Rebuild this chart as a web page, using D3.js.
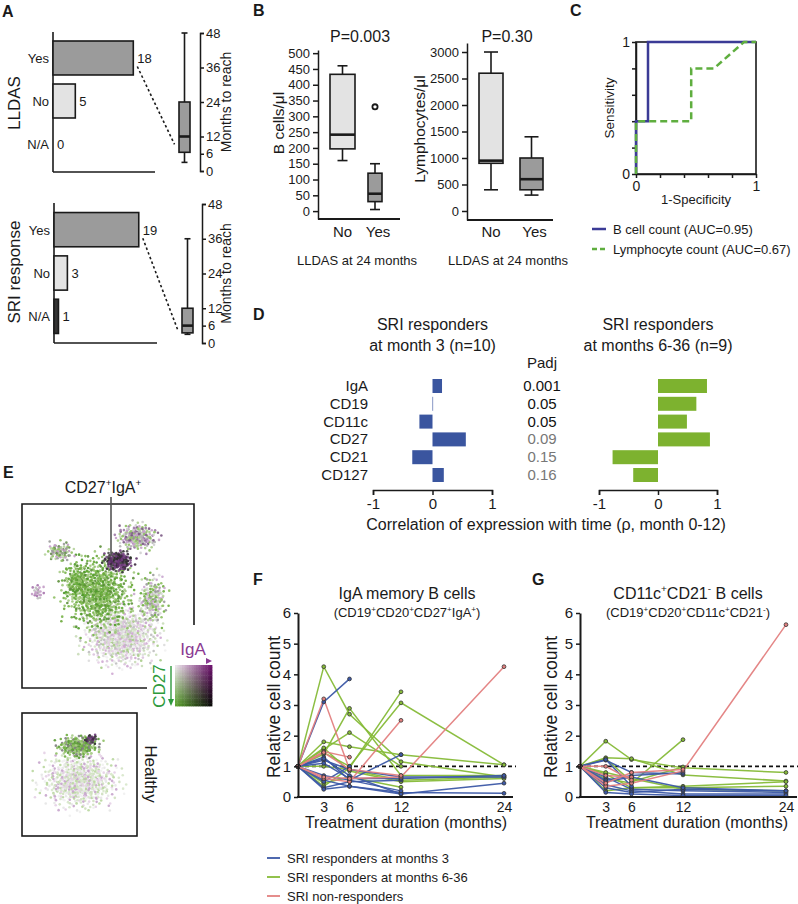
<!DOCTYPE html>
<html>
<head>
<meta charset="utf-8">
<script src="https://cdn.jsdelivr.net/npm/d3@7/dist/d3.min.js"></script>
<style>
html,body{margin:0;padding:0;background:#fff;}
svg{display:block;font-family:"Liberation Sans",Arial,Helvetica,sans-serif;}
</style>
</head>
<body>
<svg id="fig" width="798" height="904"></svg>
<script>
// ================= DATA =================
// Panel A
const answerCategories = ["Yes", "No", "N/A"];
const lldasCounts = [18, 5, 0];
const sriCounts = [19, 3, 1];
const monthTicks = [0, 6, 12, 24, 36, 48];
const lldasMonthsBox = [3, 6.5, 12, 24, 48];   // min, q1, median, q3, max
const sriMonthsBox = [3, 3.5, 6, 12, 36];

// Panel B
const lldasGroups = ["No", "Yes"];
const bCellTicks = [0, 50, 100, 150, 200, 250, 300, 350, 400, 450, 500];
const bCellsNoBox = [160, 197, 242, 433, 460];
const bCellsYesBox = [5, 30, 55, 120, 150];
const bCellsYesOutliers = [330];
const lymphTicks = [0, 500, 1000, 1500, 2000, 2500, 3000];
const lymphNoBox = [400, 900, 950, 2600, 3000];
const lymphYesBox = [300, 400, 600, 1000, 1400];
const pValues = ["P=0.003", "P=0.30"];

// Panel C
const rocBCell = [[0, 0], [0, 0.4], [0.1, 0.4], [0.1, 1], [1, 1]];
const rocLymph = [[0, 0], [0, 0.4], [0.46, 0.4], [0.46, 0.8], [0.65, 0.8], [0.9, 1], [1, 1]];
const rocTicks = [0, 0.2, 0.4, 0.6, 0.8, 1];
const rocLegend = ["B cell count (AUC=0.95)", "Lymphocyte count (AUC=0.67)"];

// Panel D
const markers = ["IgA", "CD19", "CD11c", "CD27", "CD21", "CD127"];
const rhoMonth3 = [0.16, 0.006, -0.22, 0.56, -0.34, 0.19];
const rhoMonths636 = [0.83, 0.65, 0.49, 0.88, -0.77, -0.42];
const padj = [0.001, 0.05, 0.05, 0.09, 0.15, 0.16];
const corrTicks = [-1, 0, 1];

// Panel E (t-SNE regions: cx, cy, rx, ry, n points, colour mix)
const mainClusters = [
  [58, 72, 30, 22, 700, "light"],
  [44, 48, 27, 27, 650, "green"],
  [76, 52, 11, 19, 170, "mixG"],
  [32, 42, 10, 14, 110, "green"],
  [22, 26, 11, 7, 80, "mixA"],
  [9, 48, 5, 6, 22, "mixP"],
  [67, 18, 16, 10, 200, "mixGP"],
  [56, 31, 11, 7, 190, "dark"]
];
const healthyClusters = [
  [50, 55, 46, 31, 620, "lightH"],
  [49, 27, 25, 12, 200, "greenH"],
  [60, 21, 7, 5, 30, "dark"]
];

// Panels F, G
const months = [0, 3, 6, 12, 24];
const monthLabels = [3, 6, 12, 24];
const relTicks = [0, 1, 2, 3, 4, 5, 6];
const groupNames = ["SRI responders at months 3", "SRI responders at months 6-36", "SRI non-responders"];

const fBlue = [
  [1, 3.1, 3.85, null, null],
  [1, 1.3, 0.55, 1.38, null],
  [1, 0.55, 0.35, 0.15, 0.12],
  [1, 1.2, 0.9, 0.65, 0.65],
  [1, 0.3, 0.5, 0.55, null],
  [1, 0.25, 0.35, 0.1, 0.45],
  [1, 1.25, 0.7, 0.1, null],
  [1, 0.7, 0.55, 0.2, null],
  [1, 1.1, 0.6, 0.6, 0.7],
  [1, 0.5, 1.0, null, null]
];
const fGreen = [
  [1, 4.25, 2.7, 1.15, 0.65],
  [1, 1.8, 1.64, 1.38, 1.05],
  [1, 1.4, 2.89, 0.7, 0.7],
  [1, 1.55, 2.1, 1.0, null],
  [1, 0.35, 0.95, 3.43, null],
  [1, 1.45, 1.0, 3.07, 1.05],
  [1, 1.0, 0.9, 0.55, 0.65],
  [1, 1.6, 0.85, 0.5, 0.6],
  [1, 0.45, 0.65, 0.32, null]
];
const fPink = [
  [1, 3.2, 0.9, null, null],
  [1, 1.48, 1.3, null, null],
  [1, 0.6, 0.5, 2.5, null],
  [1, 0.65, 0.6, 0.65, 4.25],
  [1, 1.45, 0.9, 0.7, null]
];

const gGreen = [
  [1, 1.82, 1.22, 0.95, 0.8],
  [1, 1.28, 1.25, 0.72, 0.52],
  [1, 0.6, 0.45, 1.87, null],
  [1, 0.75, 0.3, 0.35, 0.5],
  [1, 0.2, 0.3, 0.3, 0.35],
  [1, 0.8, 0.6, 0.25, 0.2],
  [1, 1.25, 0.5, 0.98, null]
];
const gBlue = [
  [1, 1.2, 0.8, 0.75, null],
  [1, 0.65, 0.25, 0.2, 0.15],
  [1, 0.4, 0.2, 0.1, 0.1],
  [1, 0.3, 0.15, 0.25, 0.2],
  [1, 0.55, 0.7, 0.8, null],
  [1, 0.15, 0.1, 0.05, 0.05],
  [1, 1.22, 0.35, null, null],
  [1, 0.5, 0.65, 0.3, 0.2]
];
const gPink = [
  [1, 0.35, 0.45, 0.85, 5.62],
  [1, 0.7, 0.65, null, null],
  [1, 0.45, 0.8, 0.9, null],
  [1, 1.0, 0.55, null, null]
];

// ================= STYLE =================
const FG = "#1a1a1a";
const BLUE = "#3c58a6", GREEN = "#86bb38", PINK = "#e3807f";
const palettes = {
  green: ["#4f9a2a", "#62a836", "#78b449", "#8fc064", "#a8cc88", "#5c8f3a", "#6aa83a", "#9ec77a"],
  light: ["#e8e8e8", "#dcdcdc", "#d5e5c8", "#e3cde3", "#c9dcb8", "#cfa9d3", "#f2f2f2", "#bfbfbf", "#a8cc88", "#d9c2dc"],
  mixG: ["#8fc064", "#b5d39b", "#9a9a9a", "#c9a6cf", "#6fae3f", "#d8d8d8"],
  mixGP: ["#9f7aa8", "#b3b3b3", "#8fc064", "#c5a0cb", "#7c5a85", "#a8cc88", "#d0d0d0"],
  dark: ["#3b2a3f", "#5a2e66", "#4c4c4c", "#6e3b7b", "#2e2e2e", "#7b4a86"],
  mixA: ["#8fc064", "#c39cc7", "#9a9a9a", "#6a8f52", "#b5d39b"],
  mixP: ["#c39cc7", "#a673ad", "#bdbdbd"],
  lightH: ["#e6e6e6", "#d7e7ca", "#e4d0e5", "#cfe0bf", "#f0f0f0", "#c7a4cc", "#b9d79f"],
  greenH: ["#6fae3f", "#8fc064", "#5a9a35", "#a8cc88", "#7f7f7f"]
};

const svg = d3.select("#fig");
const plain = d => String(d);

function addText(x, y, str, size, anchor, opts) {
  opts = opts || {};
  const t = svg.append("text")
    .attr("font-size", size)
    .attr("text-anchor", anchor || "start")
    .attr("fill", opts.fill || FG)
    .text(str);
  if (opts.weight) t.attr("font-weight", opts.weight);
  if (opts.rotate != null) t.attr("transform", `translate(${x},${y}) rotate(${opts.rotate})`);
  else t.attr("x", x).attr("y", y);
  return t;
}
function richText(x, y, segs, size, anchor) {
  const t = svg.append("text").attr("x", x).attr("y", y).attr("font-size", size)
    .attr("text-anchor", anchor || "middle").attr("fill", FG);
  let shifted = false;
  segs.forEach(([s, sup]) => {
    const ts = t.append("tspan").text(s);
    if (sup) {
      ts.attr("font-size", size * 0.62);
      if (!shifted) { ts.attr("dy", -size * 0.42); shifted = true; }
    } else if (shifted) { ts.attr("dy", size * 0.42); shifted = false; }
  });
  return t;
}
function line(x1, y1, x2, y2, w, color, dash) {
  const l = svg.append("line").attr("x1", x1).attr("y1", y1).attr("x2", x2).attr("y2", y2)
    .attr("stroke", color || FG).attr("stroke-width", w || 1.5);
  if (dash) l.attr("stroke-dasharray", dash);
  return l;
}
function styleAxis(g, size) {
  g.attr("font-family", null).attr("font-size", size);
  g.selectAll("text").attr("fill", FG);
  g.selectAll("path,line").attr("stroke", FG).attr("stroke-width", 1.5);
}
function boxPlot(cx, w, stats, yS, fill, capW) {
  const [mn, q1, md, q3, mx] = stats;
  line(cx, yS(mx), cx, yS(q3), 1.6);
  line(cx, yS(q1), cx, yS(mn), 1.6);
  line(cx - capW / 2, yS(mx), cx + capW / 2, yS(mx), 1.6);
  line(cx - capW / 2, yS(mn), cx + capW / 2, yS(mn), 1.6);
  svg.append("rect").attr("x", cx - w / 2).attr("y", yS(q3)).attr("width", w)
    .attr("height", yS(q1) - yS(q3)).attr("fill", fill).attr("stroke", FG).attr("stroke-width", 1.6);
  line(cx - w / 2, yS(md), cx + w / 2, yS(md), 2.6);
}

// ================= PANEL LETTERS =================
[["A", 2, 17], ["B", 253, 16], ["C", 570, 16], ["D", 253, 320], ["E", 3, 478], ["F", 253, 585], ["G", 532, 585]]
  .forEach(([s, x, y]) => addText(x, y, s, 16, "start", { weight: "bold" }));

// ================= PANEL A =================
const aLayouts = [
  { counts: lldasCounts, box: lldasMonthsBox, label: "LLDAS", axisX: 53, yTop: 32, yBot: 172, band: [36.7, 165.3], lineEnd: 155, boxC: 184.5, mAxisX: 200, mRange: [171, 33], labelY: 103 },
  { counts: sriCounts, box: sriMonthsBox, label: "SRI  response", axisX: 54, yTop: 203, yBot: 343, band: [208.2, 337.8], lineEnd: 157, boxC: 187.5, mAxisX: 202, mRange: [343, 204], labelY: 272 }
];
const aFills = ["#9b9b9b", "#e3e3e3", "#333333"];
aLayouts.forEach(L => {
  const x = d3.scaleLinear().domain([0, 23]).range([L.axisX, L.axisX + 102.6]);
  const y = d3.scaleBand().domain(answerCategories).range(L.band).paddingInner(0.21).paddingOuter(0.1);
  line(L.axisX, L.yTop, L.axisX, L.yBot, 1.6);
  line(L.axisX, L.yBot, L.lineEnd, L.yBot, 1.6);
  answerCategories.forEach((c, i) => {
    const v = L.counts[i];
    const cy = y(c) + y.bandwidth() / 2;
    if (v > 0) {
      svg.append("rect").attr("x", x(0)).attr("y", y(c)).attr("width", x(v) - x(0))
        .attr("height", y.bandwidth()).attr("fill", aFills[i]).attr("stroke", FG).attr("stroke-width", 1.6);
    }
    addText(L.axisX - 4, cy + 5, c, 13, "end");
    addText(x(v) + 4, cy + 5, String(v), 13, "start");
  });
  addText(20, L.labelY, L.label, 17, "middle", { rotate: -90 });
  const m = d3.scaleLinear().domain([0, 48]).range(L.mRange);
  boxPlot(L.boxC, 11, L.box, m, "#9b9b9b", 6);
  const ax = svg.append("g").attr("transform", `translate(${L.mAxisX},0)`)
    .call(d3.axisRight(m).tickValues(monthTicks).tickSize(4).tickSizeOuter(4).tickPadding(2).tickFormat(plain));
  styleAxis(ax, 13);
  addText(231, (L.mRange[0] + L.mRange[1]) / 2, "Months to reach", 14, "middle", { rotate: -90 });
  line(x(L.counts[0]) + 4, y("Yes") + y.bandwidth() * 0.75, L.boxC - 10, m((L.box[1] + L.box[2]) / 2), 1.6, FG, "2.5,2.5");
});

// ================= PANEL B =================
const bLayouts = [
  { y: d3.scaleLinear().domain([-25, 510]).range([219, 50]), ticks: bCellTicks, axisX: 318, end: 400, pos: [342.5, 375], widths: [25, 14], boxes: [bCellsNoBox, bCellsYesBox], outliers: bCellsYesOutliers, label: "B cells/μl", labX: 284, labY: 123, title: pValues[0], titleX: 360, capW: 10 },
  { y: d3.scaleLinear().domain([-170, 3170]).range([220, 43]), ticks: lymphTicks, axisX: 467, end: 553, pos: [491, 531.5], widths: [24, 23], boxes: [lymphNoBox, lymphYesBox], outliers: [], label: "Lymphocytes/μl", labX: 425, labY: 129, title: pValues[1], titleX: 507, capW: 14 }
];
bLayouts.forEach(L => {
  const xp = d3.scalePoint().domain(lldasGroups).range(L.pos);
  const ax = svg.append("g").attr("transform", `translate(${L.axisX},0)`)
    .call(d3.axisLeft(L.y).tickValues(L.ticks).tickSize(5).tickSizeOuter(0).tickPadding(3).tickFormat(plain));
  styleAxis(ax, 13);
  line(L.axisX, L.y.range()[0], L.end, L.y.range()[0], 1.8);
  lldasGroups.forEach((gname, i) => {
    boxPlot(xp(gname), L.widths[i], L.boxes[i], L.y, i === 0 ? "#e3e3e3" : "#9b9b9b", L.capW);
    addText(xp(gname) + (i === 1 ? 3 : 0), 237, gname, 15, "middle");
  });
  L.outliers.forEach(v => {
    svg.append("circle").attr("cx", xp("Yes")).attr("cy", L.y(v)).attr("r", 2.6)
      .attr("fill", "#fff").attr("stroke", FG).attr("stroke-width", 1.8);
  });
  addText(L.labX, L.labY, L.label, 15.5, "middle", { rotate: -90 });
  addText(L.titleX, 42, L.title, 16, "middle");
  addText((L.axisX + L.end) / 2 - 2, 265, "LLDAS at 24 months", 13, "middle");
});

// ================= PANEL C =================
{
  const x = d3.scaleLinear().domain([0, 1]).range([636, 756]);
  const y = d3.scaleLinear().domain([0, 1]).range([174, 42]);
  svg.append("rect").attr("x", x(0)).attr("y", y(1)).attr("width", x(1) - x(0)).attr("height", y(0) - y(1))
    .attr("fill", "none").attr("stroke", FG).attr("stroke-width", 1.6);
  const fmt = d => (d === 0 || d === 1) ? String(d) : "";
  const axL = svg.append("g").attr("transform", `translate(${x(0)},0)`)
    .call(d3.axisLeft(y).tickValues(rocTicks).tickSize(4).tickSizeOuter(0).tickPadding(2).tickFormat(fmt));
  styleAxis(axL, 14);
  const axB = svg.append("g").attr("transform", `translate(0,${y(0)})`)
    .call(d3.axisBottom(x).tickValues(rocTicks).tickSize(4).tickSizeOuter(0).tickPadding(3).tickFormat(fmt));
  styleAxis(axB, 14);
  const ln = d3.line().x(d => x(d[0])).y(d => y(d[1]));
  svg.append("path").datum(rocBCell).attr("d", ln).attr("fill", "none").attr("stroke", "#3b3b96").attr("stroke-width", 2.5);
  svg.append("path").datum(rocLymph).attr("d", ln).attr("fill", "none").attr("stroke", "#5fae3f")
    .attr("stroke-width", 2.5).attr("stroke-dasharray", "7,4");
  addText(614, 108, "Sensitivity", 13.5, "middle", { rotate: -90 });
  addText(696, 204, "1-Specificity", 13, "middle");
  line(592, 229, 606, 229, 2.5, "#3b3b96");
  line(592, 249, 607, 249, 2.5, "#5fae3f", "5,3");
  addText(613, 233.5, rocLegend[0], 13, "start");
  addText(613, 253.5, rocLegend[1], 13, "start");
}

// ================= PANEL D =================
{
  const y = d3.scalePoint().domain(markers).range([386, 475]);
  const dLayouts = [
    { x: d3.scaleLinear().domain([-1, 1]).range([373, 492]), vals: rhoMonth3, color: "#3a559f", t1: "SRI responders", t2: "at month 3 (n=10)" },
    { x: d3.scaleLinear().domain([-1, 1]).range([599, 717]), vals: rhoMonths636, color: "#7db22f", t1: "SRI responders", t2: "at months 6-36 (n=9)" }
  ];
  dLayouts.forEach(L => {
    svg.selectAll(null).data(markers).join("rect")
      .attr("x", (m, i) => Math.min(L.x(0), L.x(L.vals[i])))
      .attr("width", (m, i) => Math.max(0.6, Math.abs(L.x(L.vals[i]) - L.x(0))))
      .attr("y", m => y(m) - 7).attr("height", 14).attr("fill", L.color);
    const ax = svg.append("g").attr("transform", "translate(0,490)")
      .call(d3.axisBottom(L.x).tickValues(corrTicks).tickSize(5).tickSizeOuter(5).tickPadding(3).tickFormat(plain));
    styleAxis(ax, 15);
    const cx = L.x(0);
    addText(cx, 330, L.t1, 16, "middle");
    addText(cx, 351, L.t2, 16, "middle");
  });
  markers.forEach((m, i) => {
    addText(368, y(m) + 5, m, 15, "end");
    addText(542, y(m) + 5, String(padj[i]), 15, "middle", { fill: padj[i] <= 0.05 ? "#111" : "#777" });
  });
  addText(542, 368, "Padj", 15, "middle");
  addText(546, 530, "Correlation of expression with time (ρ, month 0-12)", 16, "middle");
}

// ================= PANEL E =================
function halton(i, b) { let f = 1, r = 0; while (i > 0) { f /= b; r += f * (i % b); i = Math.floor(i / b); } return r; }
function drawCloud(sx, sy, clusters) {
  const g = svg.append("g");
  clusters.forEach(([cx, cy, rx, ry, n, pal], ci) => {
    const colors = palettes[pal];
    const pts = d3.range(n).map(k => {
      const i = k + 1 + ci * 977;
      // soft-edged (gaussian-like) radial profile, low-discrepancy angles
      const r = Math.sqrt(-2 * Math.log(1 - 0.985 * halton(i, 2))) / 2.9;
      const a = 2 * Math.PI * halton(i, 3);
      const c = colors[Math.floor(halton(i, 5) * colors.length)];
      return [cx + rx * r * Math.cos(a), cy + ry * r * Math.sin(a), c];
    });
    g.selectAll(null).data(pts).join("circle")
      .attr("cx", d => sx(d[0])).attr("cy", d => sy(d[1])).attr("r", 1.3)
      .attr("fill", d => d[2]).attr("opacity", 0.9);
  });
}
{
  const sx = d3.scaleLinear().domain([0, 100]).range([22, 194]);
  const sy = d3.scaleLinear().domain([0, 100]).range([504, 688]);
  drawCloud(sx, sy, mainClusters);
  svg.append("path").attr("d", "M147,688 H22 V504 H194 V625").attr("fill", "none").attr("stroke", FG).attr("stroke-width", 1.6);
  richText(103, 493, [["CD27", false], ["+", true], ["IgA", false], ["+", true]], 16, "middle");
  line(111, 497, 111, 556, 1.6, "#555");

  // 2D colour legend
  const tl = "#f3eef3", tr = "#6d0f6d", bl = "#5aa42c", br = "#050505";
  const N = 16, lx = 175, ly = 665, lw = 37, lh = 41;
  const gl = svg.append("g");
  d3.range(N).forEach(i => d3.range(N).forEach(j => {
    const u = (i + 0.5) / N, v = (j + 0.5) / N;
    const top = d3.interpolateRgb(tl, tr)(u), bot = d3.interpolateRgb(bl, br)(u);
    gl.append("rect").attr("x", lx + i * lw / N).attr("y", ly + j * lh / N)
      .attr("width", lw / N + 0.4).attr("height", lh / N + 0.4).attr("fill", d3.interpolateRgb(top, bot)(v));
  }));
  addText(193, 655, "IgA", 17, "middle", { fill: "#8a3a92" });
  svg.append("path").attr("d", "M206,658 L212,661 L206,664 Z").attr("fill", "#8a3a92");
  addText(165, 686, "CD27", 17, "middle", { fill: "#2e9a3c", rotate: -90 });
  line(171, 666, 171, 700, 1.4, "#2e9a3c");
  svg.append("path").attr("d", "M168,699 L171,706 L174,699 Z").attr("fill", "#2e9a3c");

  const hx = d3.scaleLinear().domain([0, 100]).range([22, 137]);
  const hy = d3.scaleLinear().domain([0, 100]).range([713, 836]);
  drawCloud(hx, hy, healthyClusters);
  svg.append("rect").attr("x", 22).attr("y", 713).attr("width", 115).attr("height", 123)
    .attr("fill", "none").attr("stroke", FG).attr("stroke-width", 1.6);
  addText(145, 774, "Healthy", 17, "middle", { rotate: 90 });
}

// ================= PANELS F, G =================
const tcLayouts = [
  { range: [298, 504], axisEnd: 513, titleX: 407, labX: 280, groups: [fGreen, fBlue, fPink],
    title: [["IgA memory B cells", false]],
    sub: [["(CD19", false], ["+", true], ["CD20", false], ["+", true], ["CD27", false], ["+", true], ["IgA", false], ["+", true], [")", false]] },
  { range: [580, 786], axisEnd: 797, titleX: 688, labX: 557, groups: [gGreen, gBlue, gPink],
    title: [["CD11c", false], ["+", true], ["CD21", false], ["-", true], [" B cells", false]],
    sub: [["(CD19", false], ["+", true], ["CD20", false], ["+", true], ["CD11c", false], ["+", true], ["CD21", false], ["-", true], [")", false]] }
];
const groupColors = [GREEN, BLUE, PINK];
tcLayouts.forEach(L => {
  const x = d3.scaleLinear().domain([0, 24]).range(L.range);
  const y = d3.scaleLinear().domain([0, 6]).range([797, 613]);
  line(L.range[0], y(1), L.axisEnd + 3, y(1), 1.6, "#111", "4,3");
  const ln = d3.line().defined(d => d[1] != null).x(d => x(d[0])).y(d => y(d[1]));
  const order = [0, 1, 2];
  order.forEach(gi => {
    L.groups[gi].forEach(vals => {
      const pts = months.map((m, k) => [m, vals[k]]);
      svg.append("path").datum(pts).attr("d", ln).attr("fill", "none")
        .attr("stroke", groupColors[gi]).attr("stroke-width", 1.5).attr("opacity", 0.95);
    });
  });
  order.forEach(gi => {
    L.groups[gi].forEach(vals => {
      const pts = months.map((m, k) => [m, vals[k]]).filter(d => d[1] != null);
      svg.append("g").selectAll("circle").data(pts).join("circle")
        .attr("cx", d => x(d[0])).attr("cy", d => y(d[1])).attr("r", 1.9)
        .attr("fill", groupColors[gi]).attr("stroke", "#333").attr("stroke-width", 0.8);
    });
  });
  const ay = svg.append("g").attr("transform", `translate(${L.range[0]},0)`)
    .call(d3.axisLeft(y).tickValues(relTicks).tickSize(4).tickSizeOuter(0).tickPadding(3).tickFormat(plain));
  styleAxis(ay, 15);
  ay.select(".domain").attr("stroke-width", 2);
  line(L.range[0] - 1, 797, L.axisEnd, 797, 2.2);
  const axx = svg.append("g").attr("transform", "translate(0,797)")
    .call(d3.axisBottom(x).tickValues(monthLabels).tickSize(0).tickPadding(5).tickFormat(plain));
  styleAxis(axx, 14);
  axx.select(".domain").remove();
  richText(L.titleX, 599, L.title, 16, "middle");
  richText(L.titleX, 617, L.sub, 13, "middle");
  addText(L.labX, 707, "Relative cell count", 17.5, "middle", { rotate: -90 });
  addText(L.titleX - 1, 828, "Treatment duration (months)", 16, "middle");
});

// legend
const legendColors = [BLUE, GREEN, PINK];
groupNames.forEach((name, i) => {
  const yy = 858 + i * 19;
  line(267, yy, 280, yy, 1.8, legendColors[i]);
  addText(287, yy + 4.5, name, 13, "start");
});
</script>
</body>
</html>
